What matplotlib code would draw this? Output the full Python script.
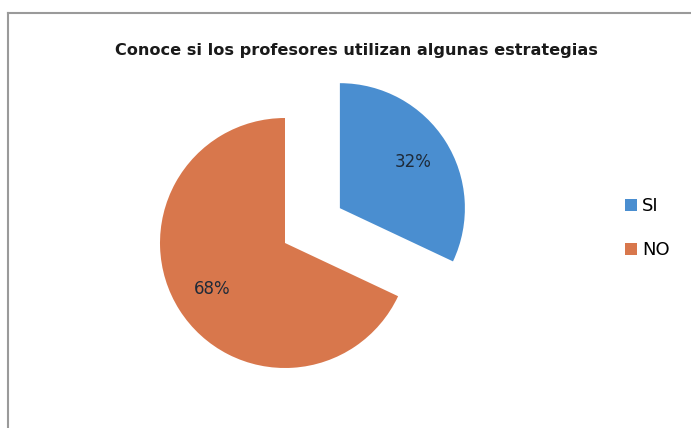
import matplotlib.pyplot as plt
from matplotlib.lines import Line2D

# Datos del gráfico
categorias = ['SI', 'NO']
valores = [32, 68]
colores = ['#4A8ED0', '#D8774C']

W, H = 691, 428
fig = plt.figure(figsize=(W / 100, H / 100), dpi=100)
ax = fig.add_axes([0, 0, 1, 1])

# centro del pie en pixeles (285, 243), radio 125 px
r = 125.0
cx, cy = 285.0, 243.0

wedges, texts, autotexts = ax.pie(valores, colors=colores, startangle=90, counterclock=False,
                                  explode=[0.52, 0], autopct='%1.0f%%', pctdistance=0.69,
                                  textprops={'fontsize': 12, 'color': '#1E2A38'},
                                  radius=1.0, frame=True)
ax.set_xlim(-cx / r, (W - cx) / r)
ax.set_ylim(-(H - cy) / r, cy / r)
ax.set_aspect('auto')
ax.axis('off')

fig.text(356 / W, 1 - 50 / H, 'Conoce si los profesores utilizan algunas estrategias',
         ha='center', va='center', fontsize=11.6, fontweight='bold', color='#1a1a1a')

fig.legend(wedges, categorias, loc='center left', bbox_to_anchor=(616 / W, 1 - 228 / H),
           frameon=False, fontsize=13, handlelength=0.65, handleheight=0.65,
           handletextpad=0.3, labelspacing=1.45, borderpad=0)

# borde del gráfico (solo arriba e izquierda visibles)
fig.add_artist(Line2D([8 / W, 8 / W], [0, 1 - 13 / H], color='#9a9a9a', lw=1.5))
fig.add_artist(Line2D([8 / W, 1], [1 - 13 / H, 1 - 13 / H], color='#9a9a9a', lw=1.5))

fig.savefig('out.png', dpi=100)
